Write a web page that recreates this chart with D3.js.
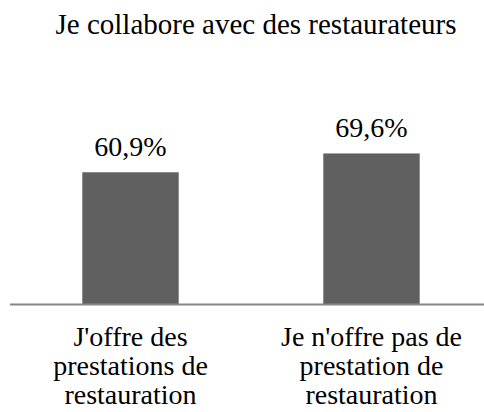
<!DOCTYPE html>
<html>
<head>
<meta charset="utf-8">
<script src="https://cdn.jsdelivr.net/npm/d3@7"></script>
</head>
<body style="margin:0">
<svg id="chart" width="484" height="412"></svg>
<script>
const title = "Je collabore avec des restaurateurs";
const categories = [
  ["J'offre des", "prestations de", "restauration"],
  ["Je n'offre pas de", "prestation de", "restauration"]
];
const values = [60.9, 69.6];
const valueLabels = ["60,9%", "69,6%"];

const width = 484, height = 412;
const baseY = 304;
const serif = "Liberation Serif";

const svg = d3.select("#chart");

const x = d3.scaleBand()
  .domain(d3.range(categories.length))
  .range([10, 492])
  .paddingInner(0.6)
  .paddingOuter(0.3);

const y = d3.scaleLinear()
  .domain([0, 100])
  .range([baseY, baseY - 216.3]);

// title
svg.append("text")
  .attr("x", 256)
  .attr("y", 34)
  .attr("text-anchor", "middle")
  .attr("font-family", serif)
  .attr("font-size", 29)
  .text(title);

// bars
svg.selectAll("rect")
  .data(values)
  .join("rect")
  .attr("x", (d, i) => x(i))
  .attr("width", x.bandwidth())
  .attr("y", d => y(d))
  .attr("height", d => y(0) - y(d))
  .attr("fill", "#606060");

// value labels above bars
values.forEach((v, i) => {
  svg.append("text")
    .attr("x", x(i) + x.bandwidth() / 2)
    .attr("y", y(v) - 16)
    .attr("text-anchor", "middle")
    .attr("font-family", serif)
    .attr("font-size", 28)
    .text(valueLabels[i]);
});

// baseline
svg.append("line")
  .attr("x1", 10)
  .attr("x2", width)
  .attr("y1", baseY + 0.5)
  .attr("y2", baseY + 0.5)
  .attr("stroke", "#878787")
  .attr("stroke-width", 2);

// category labels, one text per line
categories.forEach((lines, i) => {
  lines.forEach((line, j) => {
    svg.append("text")
      .attr("x", x(i) + x.bandwidth() / 2)
      .attr("y", 346 + j * 29)
      .attr("text-anchor", "middle")
      .attr("font-family", serif)
      .attr("font-size", 28)
      .text(line);
  });
});
</script>
</body>
</html>
